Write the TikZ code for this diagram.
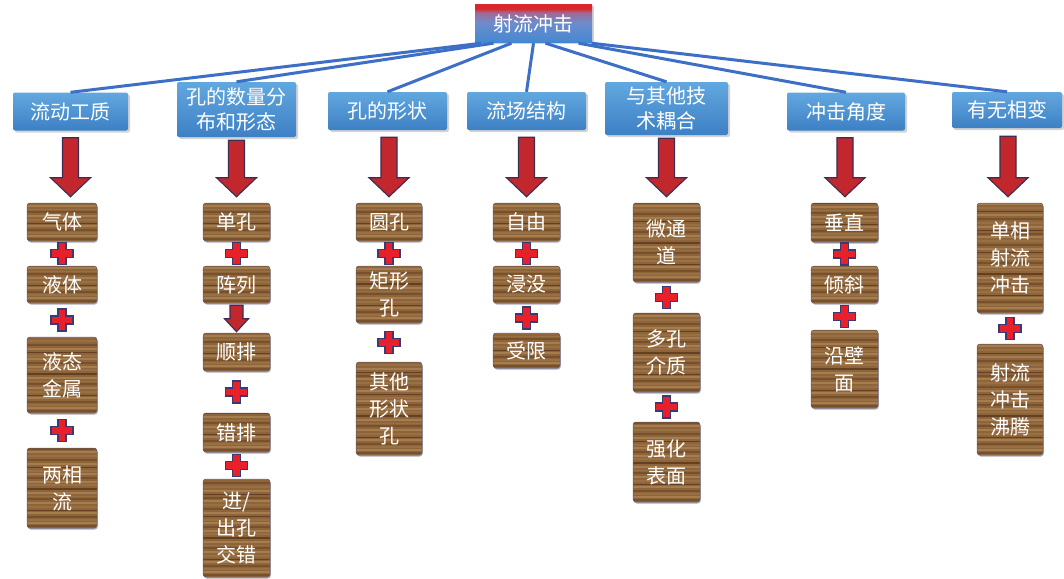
\documentclass[tikz,border=0pt]{standalone}
\usepackage{fontspec}
\newfontfamily\cjk{Noto Sans CJK SC}
\usetikzlibrary{calc,shadows}
\definecolor{rootblue}{HTML}{4388D2}
\definecolor{rootmid}{HTML}{6E8CCB}
\definecolor{rootlav}{HTML}{A06A92}
\definecolor{rootred}{HTML}{D8282C}
\definecolor{cattop}{HTML}{62A8DF}
\definecolor{catbot}{HTML}{3D80C5}
\definecolor{linkblue}{HTML}{3D6FC6}
\definecolor{woodbase}{HTML}{8E643A}
\definecolor{wdark}{HTML}{77502C}
\definecolor{wvdark}{HTML}{634022}
\definecolor{wmid}{HTML}{987043}
\definecolor{wlight}{HTML}{A67D4F}
\definecolor{woodedge}{HTML}{6A5A66}
\definecolor{navyshadow}{HTML}{2E2E5A}
\definecolor{arrowred}{HTML}{C1272D}
\definecolor{arrowedge}{HTML}{3E2C52}
\definecolor{plusred}{HTML}{E8202A}
\definecolor{plusedge}{HTML}{3A3A78}
\pgfdeclareverticalshading{rootshade}{100bp}{color(0bp)=(rootblue); color(25bp)=(rootblue); color(52bp)=(rootmid); color(65bp)=(rootlav); color(70bp)=(rootred); color(100bp)=(rootred)}
\newcommand{\blockarrow}[5]{%
  \draw[blockarrowstyle] let \p1=(#1), \p2=(#2) in
    (\x1-#3,\y1) -- (\x1-#3,\y2+#5) -- (\x1-#4,\y2+#5) -- (\x1,\y2)
    -- (\x1+#4,\y2+#5) -- (\x1+#3,\y2+#5) -- (\x1+#3,\y1) -- cycle;}
\tikzset{
  rootbox/.style={shading=rootshade, minimum width=117pt, minimum height=38pt,
    text=white, font=\cjk\fontsize{20}{25}\selectfont, inner sep=0pt,
    drop shadow={shadow xshift=1.5pt,shadow yshift=-1.5pt,opacity=0.35}},
  catbox/.style={top color=cattop, bottom color=catbot, rounded corners=2pt,
    minimum height=38pt, text=white, font=\cjk\fontsize{20}{25}\selectfont,
    align=center, inner sep=0pt,
    drop shadow={shadow xshift=2pt,shadow yshift=-2pt,opacity=0.35}},
  woodbox/.style={rounded corners=3pt, minimum width=67pt, text=white,
    font=\cjk\fontsize{20}{27}\selectfont, align=center, inner sep=0pt,
    fill=woodbase, draw=woodedge, line width=0.5pt,
    drop shadow={shadow xshift=0.8pt,shadow yshift=-1.5pt,opacity=0.4,fill=navyshadow},
    path picture={
      \foreach \d/\c/\w in {2/wdark/1.2, 5/wlight/2, 8/wmid/1.2, 11/wdark/1.8,
        15/wlight/1.5, 18/wvdark/0.8, 21/wmid/2, 25/wlight/2.5, 29/wdark/1.2,
        32/wmid/1, 35/wlight/2, 39/wvdark/1.2, 43/wmid/2, 46/wlight/1.5,
        50/wdark/2, 54/wlight/1.5, 57/wmid/2, 61/wvdark/0.9, 64/wlight/2,
        68/wdark/1.2, 72/wmid/2.5, 76/wlight/1.5, 79/wdark/1.6, 83/wvdark/0.8,
        86/wlight/2, 90/wmid/1.5, 94/wdark/1.8, 98/wlight/1.8, 102/wvdark/1,
        105/wmid/2, 109/wlight/1.5, 112/wdark/1.6}
      {\draw[\c, line width=\w pt]
        ([yshift=\d pt]path picture bounding box.south west) --
        ([yshift=\d pt]path picture bounding box.south east);}}},
  link/.style={draw=linkblue, line width=3pt},
  blockarrowstyle/.style={fill=arrowred, draw=arrowedge, line width=1.1pt, line join=miter},
  plussign/.pic={\draw[fill=plusred, draw=plusedge, line width=1.1pt]
    (-4,-11) -- (4,-11) -- (4,-4) -- (11,-4) -- (11,4) -- (4,4) -- (4,11)
    -- (-4,11) -- (-4,4) -- (-11,4) -- (-11,-4) -- (-4,-4) -- cycle;}
}
\begin{document}
\begin{tikzpicture}[x=1pt,y=-1pt]
\useasboundingbox (0,0) rectangle (1064,578);
\fill[white] (0,0) rectangle (1064,578);

% root
\node[rootbox] (root) at (533.5,24) {射流冲击};

% categories
\node[catbox, minimum width=115pt] (c1) at (70.5,111.5) {流动工质};
\node[catbox, minimum width=119pt, minimum height=55pt] (c2) at (236.5,109.5) {孔的数量分\\布和形态};
\node[catbox, minimum width=119pt] (c3) at (387.5,111) {孔的形状};
\node[catbox, minimum width=119pt] (c4) at (526.5,111) {流场结构};
\node[catbox, minimum width=123pt, minimum height=53pt] (c5) at (666.5,108.5) {与其他技\\术耦合};
\node[catbox, minimum width=118pt] (c6) at (846,111.5) {冲击角度};
\node[catbox, minimum width=110pt, minimum height=36pt] (c7) at (1007,110) {有无相变};

% links
\draw[link] ([xshift=-52pt]root.south) -- (c1.north);
\draw[link] ([xshift=-40pt]root.south) -- (c2.north);
\draw[link] ([xshift=-22pt]root.south) -- (c3.north);
\draw[link] ([xshift=0pt]root.south) -- (c4.north);
\draw[link] ([xshift=12pt]root.south) -- (c5.north);
\draw[link] ([xshift=45pt]root.south) -- (c6.north);
\draw[link] ([xshift=58pt]root.south) -- (c7.north);

% column 1
\node[woodbox, minimum width=70pt, minimum height=38pt] (b11) at (62,222) {气体};
\node[woodbox, minimum width=70pt, minimum height=37pt] (b12) at (62,284.5) {液体};
\node[woodbox, minimum width=70pt, minimum height=76pt] (b13) at (62,375) {液态\\金属};
\node[woodbox, minimum width=70pt, minimum height=80pt] (b14) at (62,488) {两相\\流};
% column 2
\node[woodbox, minimum height=38pt] (b21) at (236.5,222) {单孔};
\node[woodbox, minimum height=37pt] (b22) at (236.5,284.5) {阵列};
\node[woodbox, minimum height=38pt] (b23) at (236.5,352) {顺排};
\node[woodbox, minimum height=39pt] (b24) at (236.5,432.5) {错排};
\node[woodbox, minimum height=98pt] (b25) at (236.5,528) {进/\\出孔\\交错};
% column 3
\node[woodbox, minimum width=66pt, minimum height=38pt] (b31) at (389,222) {圆孔};
\node[woodbox, minimum width=66pt, minimum height=57pt] (b32) at (389,294.5) {矩形\\孔};
\node[woodbox, minimum width=66pt, minimum height=93pt] (b33) at (389,408.5) {其他\\形状\\孔};
% column 4
\node[woodbox, minimum height=38pt] (b41) at (526.5,222) {自由};
\node[woodbox, minimum height=37pt] (b42) at (526.5,284.5) {浸没};
\node[woodbox, minimum height=35pt] (b43) at (526.5,350.5) {受限};
% column 5
\node[woodbox, minimum height=79pt] (b51) at (666.5,242.5) {微通\\道};
\node[woodbox, minimum height=79pt] (b52) at (666.5,352.5) {多孔\\介质};
\node[woodbox, minimum height=80pt] (b53) at (666.5,462) {强化\\表面};
% column 6
\node[woodbox, minimum height=39pt] (b61) at (844.5,222.5) {垂直};
\node[woodbox, minimum height=37pt] (b62) at (844.5,284.5) {倾斜};
\node[woodbox, minimum height=78pt] (b63) at (844.5,369) {沿壁\\面};
% column 7
\node[woodbox, minimum width=66pt, minimum height=110pt] (b71) at (1010,258) {单相\\射流\\冲击};
\node[woodbox, minimum width=66pt, minimum height=111pt] (b72) at (1010,399.5) {射流\\冲击\\沸腾};

% down arrows
\blockarrow{[yshift=-7pt]c1.south}{[yshift=6pt]b11.north}{8pt}{20pt}{19pt}
\blockarrow{[yshift=-3pt]c2.south}{[yshift=6pt]b21.north}{8pt}{20pt}{19pt}
\blockarrow{[xshift=1.5pt,yshift=-7pt]c3.south}{[yshift=6pt]b31.north}{8pt}{20pt}{19pt}
\blockarrow{[yshift=-7pt]c4.south}{[yshift=6pt]b41.north}{8pt}{20pt}{19pt}
\blockarrow{[yshift=-3pt]c5.south}{[yshift=6pt]b51.north}{8pt}{20pt}{19pt}
\blockarrow{[xshift=-1pt,yshift=-7pt]c6.south}{[yshift=6pt]b61.north}{8pt}{20pt}{19pt}
\blockarrow{[xshift=1pt,yshift=-8pt]c7.south}{[yshift=6pt]b71.north}{8pt}{20pt}{19pt}
\blockarrow{[yshift=-2pt]b22.south}{[yshift=1pt]b23.north}{6.5pt}{12pt}{13pt}

% plus signs
\foreach \a/\b in {b11/b12, b12/b13, b13/b14, b21/b22, b23/b24, b24/b25,
  b31/b32, b32/b33, b41/b42, b42/b43, b51/b52, b52/b53, b61/b62, b62/b63, b71/b72}
  \path ($(\a.south)!0.5!(\b.north)$) pic {plussign};
\end{tikzpicture}
\end{document}
